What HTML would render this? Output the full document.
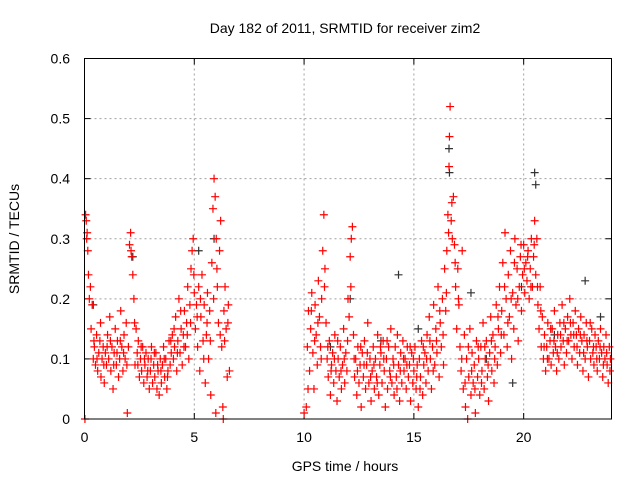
<!DOCTYPE html>
<html><head><meta charset="utf-8"><style>
html,body{margin:0;padding:0;background:#fff;}
svg{display:block;font-family:"Liberation Sans",sans-serif;}
</style></head><body>
<svg id="chart" width="640" height="480" viewBox="0 0 640 480" xmlns="http://www.w3.org/2000/svg">
<rect width="640" height="480" fill="#fff"/>
<text x="345" y="33" font-size="14" text-anchor="middle" fill="#000">Day 182 of 2011, SRMTID for receiver zim2</text>
<text x="345" y="471" font-size="14" text-anchor="middle" fill="#000">GPS time / hours</text>
<text x="19" y="239" font-size="14" text-anchor="middle" fill="#000" transform="rotate(-90 19 239)">SRMTID / TECUs</text>
<g id="grid"></g>
<g id="ticks"></g>
<g id="marks"></g>
<rect x="84.5" y="58.5" width="527" height="360.5" fill="none" stroke="#000" stroke-width="1"/>
</svg>
<script>
const xTicks = [0,5,10,15,20];
const yTicks = [0,0.1,0.2,0.3,0.4,0.5,0.6];
const yTickLabels = ["0","0.1","0.2","0.3","0.4","0.5","0.6"];
const redPoints = [
[0.02,0],[0.05,0.34],[0.08,0.33],[0.12,0.31],[0.15,0.28],[0.18,0.24],[0.22,0.2],[0.3,0.15],[0.35,0.19],[0.4,0.1],[0.45,0.12],[0.5,0.09],[0.55,0.14],[0.6,0.08],[0.65,0.11],[0.7,0.13],[0.75,0.07],[0.8,0.1],[0.85,0.12],[0.9,0.06],[0.95,0.11],[1.0,0.09],[1.05,0.14],[1.1,0.1],[1.15,0.17],[1.2,0.08],[1.25,0.12],[1.3,0.05],[1.35,0.11],[1.4,0.15],[1.45,0.09],[1.5,0.13],[1.55,0.07],[1.6,0.1],[1.65,0.18],[1.7,0.12],[1.75,0.08],[1.8,0.14],[1.85,0.1],[1.9,0.16],[1.95,0.01],[2.0,0.12],[2.05,0.29],[2.1,0.31],[2.15,0.27],[2.2,0.24],[2.25,0.2],[2.3,0.09],[2.35,0.15],[2.4,0.11],[2.45,0.13],[2.5,0.07],[2.55,0.1],[2.6,0.08],[2.65,0.12],[2.7,0.06],[2.75,0.09],[2.8,0.11],[2.85,0.07],[2.9,0.1],[2.95,0.05],[3.0,0.08],[3.05,0.12],[3.1,0.06],[3.15,0.09],[3.2,0.07],[3.25,0.11],[3.3,0.05],[3.35,0.08],[3.4,0.04],[3.45,0.1],[3.5,0.06],[3.55,0.09],[3.6,0.12],[3.65,0.07],[3.7,0.1],[3.75,0.05],[3.8,0.08],[3.85,0.13],[3.9,0.09],[3.95,0.11],[4.0,0.14],[4.05,0.1],[4.1,0.12],[4.15,0.17],[4.2,0.08],[4.25,0.13],[4.3,0.2],[4.35,0.11],[4.4,0.15],[4.45,0.09],[4.5,0.14],[4.55,0.18],[4.6,0.12],[4.65,0.16],[4.7,0.22],[4.75,0.1],[4.8,0.19],[4.85,0.25],[4.9,0.28],[4.95,0.3],[5.0,0.21],[5.05,0.15],[5.1,0.19],[5.15,0.12],[5.2,0.22],[5.25,0.08],[5.3,0.17],[5.35,0.24],[5.4,0.13],[5.45,0.19],[5.5,0.06],[5.55,0.14],[5.6,0.21],[5.65,0.1],[5.7,0.18],[5.75,0.04],[5.8,0.26],[5.85,0.35],[5.9,0.4],[5.95,0.37],[6.0,0.3],[6.05,0.22],[6.1,0.16],[6.15,0.28],[6.2,0.33],[6.25,0.12],[6.3,0.02],[6.35,0.18],[6.4,0.22],[6.45,0.15],[6.5,0.07],[6.55,0.19],[6.6,0.08],[5.98,0.01],[6.32,0.0],
[10.0,0.01],[10.1,0.02],[10.15,0.12],[10.2,0.18],[10.25,0.08],[10.3,0.15],[10.35,0.21],[10.4,0.11],[10.45,0.05],[10.5,0.19],[10.55,0.14],[10.6,0.09],[10.65,0.23],[10.7,0.17],[10.75,0.12],[10.8,0.2],[10.85,0.28],[10.9,0.34],[10.95,0.25],[11.0,0.16],[11.05,0.1],[11.1,0.07],[11.15,0.13],[11.2,0.04],[11.25,0.09],[11.3,0.11],[11.35,0.06],[11.4,0.14],[11.45,0.08],[11.5,0.03],[11.55,0.1],[11.6,0.07],[11.65,0.12],[11.7,0.05],[11.75,0.09],[11.8,0.15],[11.85,0.06],[11.9,0.11],[11.95,0.08],[12.0,0.2],[12.05,0.17],[12.1,0.27],[12.15,0.3],[12.2,0.32],[12.25,0.14],[12.3,0.07],[12.35,0.1],[12.4,0.04],[12.45,0.12],[12.5,0.06],[12.55,0.09],[12.6,0.02],[12.65,0.11],[12.7,0.07],[12.75,0.13],[12.8,0.05],[12.85,0.09],[12.9,0.16],[12.95,0.06],[13.0,0.1],[13.05,0.03],[13.1,0.08],[13.15,0.12],[13.2,0.05],[13.25,0.1],[13.3,0.07],[13.35,0.14],[13.4,0.04],[13.45,0.09],[13.5,0.11],[13.55,0.06],[13.6,0.13],[13.65,0.08],[13.7,0.02],[13.75,0.1],[13.8,0.05],[13.85,0.12],[13.9,0.08],[13.95,0.15],[14.0,0.06],[14.05,0.1],[14.1,0.04],[14.15,0.12],[14.2,0.07],[14.25,0.14],[14.3,0.09],[14.35,0.03],[14.4,0.11],[14.45,0.06],[14.5,0.13],[14.55,0.08],[14.6,0.1],[14.65,0.05],[14.7,0.12],[14.75,0.07],[14.8,0.09],[14.85,0.03],[14.9,0.11],[14.95,0.06],[15.0,0.08],[15.05,0.12],[15.1,0.05],[15.15,0.09],[15.2,0.02],[15.25,0.1],[15.3,0.07],[15.35,0.13],[15.4,0.04],[15.45,0.09],[15.5,0.11],[15.55,0.06],[15.6,0.14],[15.65,0.08],[15.7,0.17],[15.75,0.1],[15.8,0.05],[15.85,0.12],[15.9,0.19],[15.95,0.09],[16.0,0.15],[16.05,0.11],[16.1,0.22],[16.15,0.07],[16.2,0.16],[16.25,0.12],[16.3,0.2],[16.35,0.09],[16.4,0.25],[16.45,0.18],[16.5,0.28],[16.55,0.34],[16.6,0.42],[16.62,0.47],[16.65,0.52],[16.7,0.33],[16.75,0.3],[16.8,0.37],[16.85,0.29],[16.9,0.22],[16.95,0.15],[17.0,0.25],[17.05,0.19],[17.1,0.12],[17.15,0.08],[17.2,0.28],[17.25,0.05],[17.3,0.14],[17.35,0.02],[17.4,0.1],[17.45,0.0],[17.5,0.07],[17.55,0.15],[17.6,0.04],[17.65,0.11],[17.7,0.06],[17.75,0.09],[17.8,0.01],[17.85,0.13],[17.9,0.07],[17.95,0.1],[18.0,0.04],[18.05,0.12],[18.1,0.08],[18.15,0.16],[18.2,0.05],[18.25,0.1],[18.3,0.13],[18.35,0.07],[18.4,0.03],[18.45,0.11],[18.5,0.17],[18.55,0.08],[18.6,0.14],[18.65,0.06],[18.7,0.12],[18.75,0.19],[18.8,0.09],[18.85,0.15],[18.9,0.22],[18.95,0.11],[19.0,0.18],[19.05,0.26],[19.1,0.14],[19.15,0.31],[19.2,0.2],[19.25,0.12],[19.3,0.24],[19.35,0.17],[19.4,0.28],[19.45,0.1],[19.5,0.21],[19.55,0.15],[19.6,0.3],[19.65,0.19],[19.7,0.25],[19.75,0.13],[19.8,0.22],[19.85,0.27],[19.9,0.18],[19.95,0.24],[20.0,0.29],[20.05,0.21],[20.1,0.26],[20.15,0.23],[20.2,0.28],[20.25,0.2],[20.3,0.25],[20.35,0.3],[20.4,0.22],[20.45,0.27],[20.5,0.33],[20.55,0.24],[20.6,0.3],[20.65,0.19],[20.7,0.15],[20.75,0.22],[20.8,0.12],[20.85,0.17],[20.9,0.1],[20.95,0.14],[21.0,0.08],[21.05,0.12],[21.1,0.16],[21.15,0.1],[21.2,0.13],[21.25,0.09],[21.3,0.15],[21.35,0.11],[21.4,0.18],[21.45,0.12],[21.5,0.08],[21.55,0.14],[21.6,0.1],[21.65,0.16],[21.7,0.12],[21.75,0.19],[21.8,0.13],[21.85,0.09],[21.9,0.15],[21.95,0.11],[22.0,0.17],[22.05,0.13],[22.1,0.2],[22.15,0.14],[22.2,0.1],[22.25,0.16],[22.3,0.12],[22.35,0.18],[22.4,0.14],[22.45,0.09],[22.5,0.15],[22.55,0.11],[22.6,0.17],[22.65,0.13],[22.7,0.08],[22.75,0.14],[22.8,0.1],[22.85,0.16],[22.9,0.12],[22.95,0.07],[23.0,0.13],[23.05,0.1],[23.1,0.15],[23.15,0.11],[23.2,0.09],[23.25,0.14],[23.3,0.12],[23.35,0.08],[23.4,0.13],[23.45,0.1],[23.5,0.15],[23.55,0.11],[23.6,0.07],[23.65,0.12],[23.7,0.1],[23.75,0.14],[23.8,0.09],[23.85,0.06],[23.9,0.12],[23.95,0.1]
];
const redPoints2 = [
[0.1,0.3],[0.27,0.22],[0.43,0.13],[0.57,0.1],[0.73,0.16],[0.88,0.09],[1.03,0.12],[1.18,0.13],[1.33,0.09],[1.48,0.11],[1.63,0.13],[1.78,0.11],[1.93,0.09],[2.12,0.28],[2.28,0.16],[2.43,0.09],[2.58,0.12],[2.73,0.1],[2.88,0.08],[3.03,0.1],[3.18,0.11],[3.33,0.09],[3.48,0.08],[3.63,0.1],[3.78,0.07],[3.93,0.13],[4.08,0.15],[4.23,0.11],[4.38,0.18],[4.53,0.12],[4.68,0.14],[4.83,0.16],[4.98,0.24],[5.13,0.17],[5.28,0.2],[5.43,0.1],[5.58,0.16],[5.73,0.13],[5.88,0.2],[6.03,0.25],[6.18,0.14],[6.38,0.13],[6.53,0.16],
[10.18,0.05],[10.33,0.18],[10.48,0.13],[10.63,0.16],[10.78,0.1],[10.93,0.22],[11.08,0.12],[11.23,0.08],[11.38,0.1],[11.53,0.13],[11.68,0.08],[11.83,0.1],[11.98,0.13],[12.13,0.22],[12.28,0.1],[12.43,0.08],[12.58,0.12],[12.73,0.09],[12.88,0.11],[13.03,0.07],[13.18,0.09],[13.33,0.06],[13.48,0.12],[13.63,0.1],[13.78,0.13],[13.93,0.07],[14.08,0.09],[14.23,0.05],[14.38,0.08],[14.53,0.1],[14.68,0.09],[14.83,0.12],[14.98,0.1],[15.13,0.07],[15.28,0.05],[15.43,0.12],[15.58,0.1],[15.73,0.13],[15.88,0.08],[16.03,0.13],[16.18,0.18],[16.33,0.14],[16.48,0.21],[16.58,0.31],[16.73,0.36],[16.88,0.26],[17.03,0.2],[17.18,0.1],[17.33,0.06],[17.48,0.12],[17.63,0.08],[17.78,0.05],[17.93,0.12],[18.08,0.06],[18.23,0.12],[18.38,0.09],[18.53,0.13],[18.68,0.1],[18.83,0.17],[18.98,0.14],[19.13,0.22],[19.28,0.16],[19.43,0.2],[19.58,0.26],[19.73,0.2],[19.88,0.29],[20.03,0.25],[20.18,0.27],[20.33,0.22],[20.48,0.29],[20.63,0.22],[20.78,0.18],[20.93,0.12],[21.08,0.1],[21.23,0.15],[21.38,0.13],[21.53,0.11],[21.68,0.14],[21.83,0.16],[21.98,0.13],[22.13,0.16],[22.28,0.14],[22.43,0.12],[22.58,0.14],[22.73,0.11],[22.88,0.13],[23.03,0.16],[23.18,0.12],[23.33,0.1],[23.48,0.12],[23.63,0.09],[23.78,0.11],[23.93,0.08]
];
const blackPoints = [
[0.4,0.19],[2.2,0.27],[5.2,0.28],[5.9,0.3],[12.1,0.2],[14.3,0.24],[16.6,0.45],[16.62,0.41],[20.5,0.41],[20.55,0.39],[19.9,0.22],[18.3,0.1],[21.4,0.14],[22.8,0.23],[23.5,0.17],[15.2,0.15],[13.5,0.13],[11.2,0.12],[17.6,0.21],[19.5,0.06]
];
const X0=84.5, X1=611.5, Y0=419, Y1=58.5;
function xs(t){return X0+(t/24)*(X1-X0);}
function ys(v){return Y0-(v/0.6)*(Y0-Y1);}
const NS="http://www.w3.org/2000/svg";
const grid=document.getElementById('grid'), ticks=document.getElementById('ticks'), marks=document.getElementById('marks');
function mk(tag,attrs,parent){const e=document.createElementNS(NS,tag);for(const k in attrs)e.setAttribute(k,attrs[k]);parent.appendChild(e);return e;}
xTicks.forEach(t=>{
  const x=xs(t);
  if(t>0){const g=mk('line',{x1:x,x2:x,y1:Y1,y2:Y0,stroke:'#a0a0a0','stroke-dasharray':'2,3'},grid);
  
  }
  mk('line',{x1:x,x2:x,y1:Y0,y2:Y0-6,stroke:'#000'},ticks);
  mk('line',{x1:x,x2:x,y1:Y1,y2:Y1+6,stroke:'#000'},ticks);
  const l=mk('text',{x:x,y:442,'font-size':14,'text-anchor':'middle'},ticks);
  l.textContent=String(t);
  
  
});
yTicks.forEach((v,i)=>{
  const y=ys(v);
  if(v>0&&v<0.6){const g=mk('line',{x1:X0,x2:X1,y1:y,y2:y,stroke:'#a0a0a0','stroke-dasharray':'2,3'},grid);
  
  }
  mk('line',{x1:X0,x2:X0+6,y1:y,y2:y,stroke:'#000'},ticks);
  mk('line',{x1:X1,x2:X1-6,y1:y,y2:y,stroke:'#000'},ticks);
  const l=mk('text',{x:70,y:y+5,'font-size':14,'text-anchor':'end'},ticks);
  l.textContent=yTickLabels[i];
  
  
});
function plus(p,color,name){
  const x=xs(p[0]), y=ys(p[1]);
  const e=mk('path',{d:`M${x-4},${y}H${x+4}M${x},${y-4}V${y+4}`,stroke:color,'stroke-width':1.2,fill:'none'},marks);
  
  
}
blackPoints.forEach(p=>plus(p,'#333','black-point'));
redPoints.forEach(p=>plus(p,'#ff0000','red-point'));
redPoints2.forEach(p=>plus(p,'#ff0000','red-point'));
</script>
</body></html>
